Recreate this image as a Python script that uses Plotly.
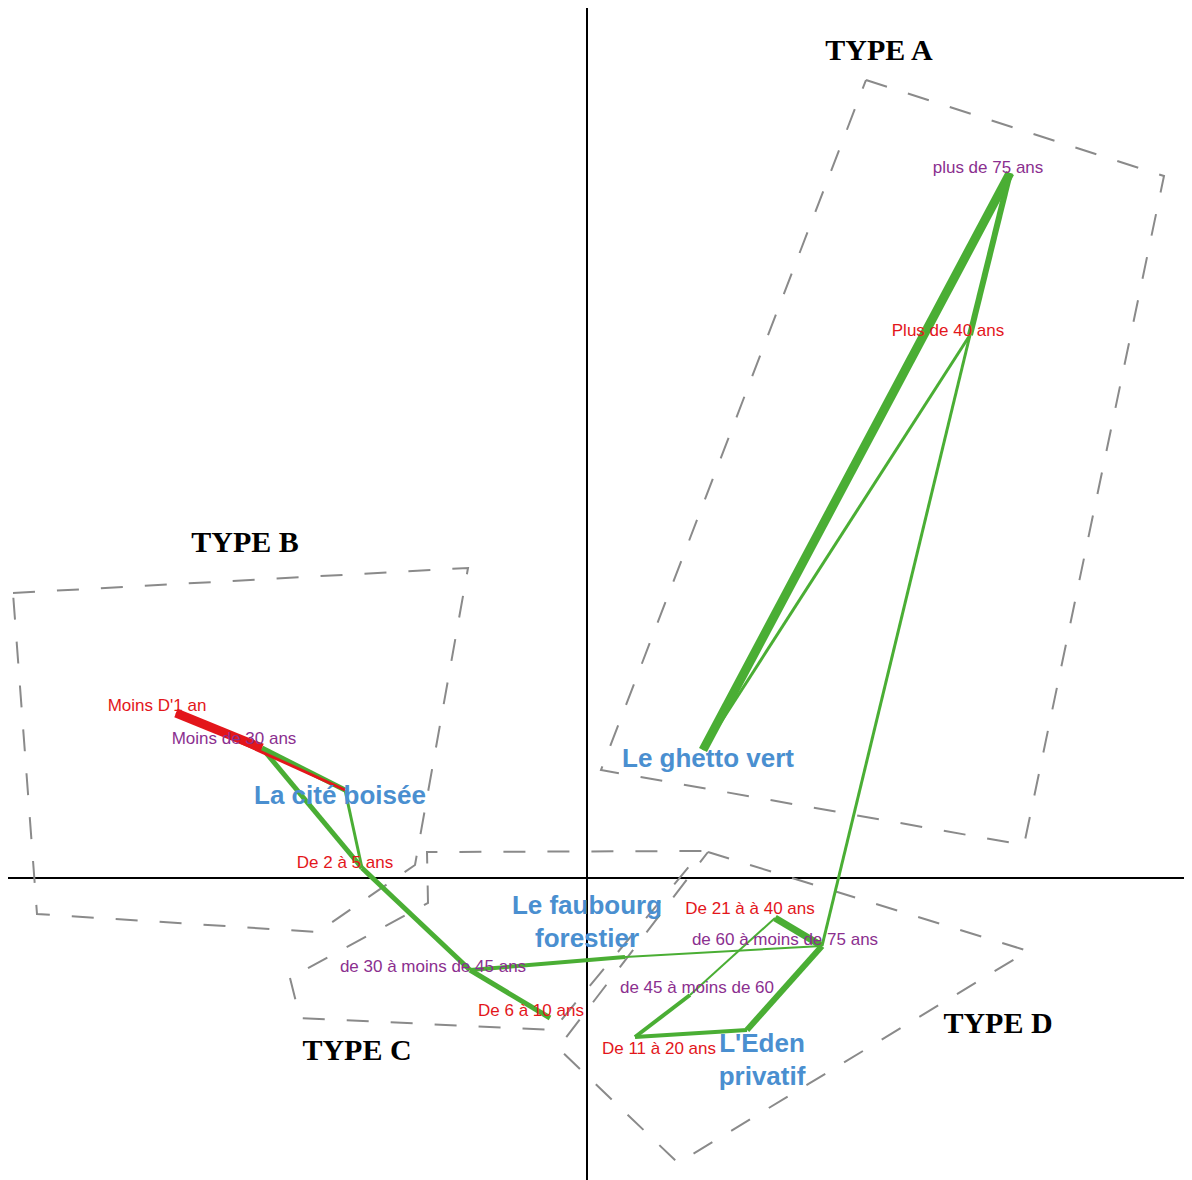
import plotly.graph_objects as go

# factor plane coordinates (axis 1 horizontal, axis 2 vertical)
node_names = ["moins1", "moins30", "cite", "de2a5", "de30a45", "de6a10", "faubourg",
              "de21a40", "de60a75", "de45a60", "de11a20", "eden", "plus40", "plus75", "ghetto"]
node_x = [-4.11, -3.25, -2.42, -2.25, -1.17, -0.37, 0.38, 1.88, 2.35, 1.03, 0.48, 1.60, 3.83, 4.23, 1.16]
node_y = [1.65, 1.30, 0.88, 0.10, -0.92, -1.40, -0.79, -0.40, -0.68, -1.17, -1.59, -1.52, 5.43, 7.05, 1.28]

# links between modalities, with their strength
edge_from = ["moins1", "moins1", "moins30", "moins30", "cite", "de2a5", "de30a45", "de30a45",
             "faubourg", "de21a40", "de21a40", "de45a60", "de11a20", "eden", "de60a75",
             "plus40", "plus40", "plus75"]
edge_to = ["moins30", "cite", "cite", "de2a5", "de2a5", "de30a45", "de6a10", "faubourg",
           "de60a75", "de60a75", "de45a60", "de11a20", "eden", "de60a75", "plus40",
           "plus75", "ghetto", "ghetto"]
edge_weight = [9, 3, 5, 5, 3, 5, 5, 4, 2, 7, 2, 4, 4, 6, 3, 6, 3, 9]
edge_kind = ["red", "red"] + ["green"] * 16

# dashed type envelopes
type_a_x = [2.79, 5.77, 4.37, 0.14, 2.79]
type_a_y = [7.98, 7.02, 0.33, 1.08, 7.98]
type_b_x = [-5.74, -1.19, -1.72, -2.69, -5.50, -5.74]
type_b_y = [2.85, 3.10, 0.13, -0.54, -0.36, 2.85]
type_c_x = [-2.97, -2.87, -0.34, 1.15, -1.60, -1.59, -2.97]
type_c_y = [-1.00, -1.40, -1.52, 0.27, 0.26, -0.25, -1.00]
type_d_x = [1.21, 4.41, 0.91, -0.29, 1.21]
type_d_y = [0.26, -0.73, -2.85, -1.70, 0.26]

# labels
red_labels = ["Moins D'1 an", "De 2 à 5 ans", "De 6 à 10 ans", "De 11 à 20 ans",
              "De 21 à à 40 ans", "Plus de 40 ans"]
red_x = [-4.30, -2.42, -0.56, 0.72, 1.63, 3.61]
red_y = [1.71, 0.14, -1.34, -1.72, -0.32, 5.46]
purple_labels = ["Moins de 30 ans", "de 30 à moins de 45 ans", "de 45 à moins de 60",
                 "de 60 à moins de 75 ans", "plus de 75 ans"]
purple_x = [-3.53, -1.54, 1.10, 1.98, 4.01]
purple_y = [1.38, -0.90, -1.11, -0.63, 7.09]
blue_labels = ["Le ghetto vert", "La cité boisée", "Le faubourg<br>forestier", "L'Eden<br>privatif"]
blue_x = [1.21, -2.47, 0.00, 1.75]
blue_y = [1.18, 0.81, -0.46, -1.84]
type_labels = ["TYPE A", "TYPE B", "TYPE C", "TYPE D"]
type_x = [2.92, -3.42, -2.30, 4.11]
type_y = [8.26, 3.34, -1.74, -1.47]

GREEN = "#4aae34"
RED = "#e3161b"
colors = {"green": GREEN, "red": RED}

fig = go.Figure()

# axes through the origin
fig.add_trace(go.Scatter(x=[-5.80, 6.05], y=[0, 0], mode="lines",
                         line=dict(color="black", width=2), hoverinfo="skip"))
fig.add_trace(go.Scatter(x=[0, 0], y=[8.70, -3.02], mode="lines",
                         line=dict(color="black", width=2), hoverinfo="skip"))

for px, py in [(type_a_x, type_a_y), (type_b_x, type_b_y), (type_c_x, type_c_y), (type_d_x, type_d_y)]:
    fig.add_trace(go.Scatter(x=px, y=py, mode="lines",
                             line=dict(color="#8a8a8a", width=2, dash="22px,22px"),
                             hoverinfo="skip"))

idx = {n: i for i, n in enumerate(node_names)}
# green first, red on top
order = [i for i in range(len(edge_from)) if edge_kind[i] == "green"] + \
        [i for i in range(len(edge_from)) if edge_kind[i] == "red"]
for i in order:
    a, b = idx[edge_from[i]], idx[edge_to[i]]
    fig.add_trace(go.Scatter(x=[node_x[a], node_x[b]], y=[node_y[a], node_y[b]], mode="lines",
                             line=dict(color=colors[edge_kind[i]], width=edge_weight[i]),
                             hoverinfo="skip"))

fig.add_trace(go.Scatter(x=red_x, y=red_y, mode="text", text=red_labels,
                         textfont=dict(family="Liberation Sans", size=17, color=RED)))
fig.add_trace(go.Scatter(x=purple_x, y=purple_y, mode="text", text=purple_labels,
                         textfont=dict(family="Liberation Sans", size=17, color="#8b2f8f")))
fig.add_trace(go.Scatter(x=blue_x, y=blue_y, mode="text", text=blue_labels,
                         textfont=dict(family="Liberation Sans", size=26, color="#4a8fd0", weight="bold")))
fig.add_trace(go.Scatter(x=type_x, y=type_y, mode="text", text=type_labels,
                         textfont=dict(family="Liberation Serif", size=30, color="black", weight="bold")))

fig.update_layout(width=1192, height=1180, margin=dict(l=0, r=0, t=0, b=0),
                  showlegend=False, plot_bgcolor="white", paper_bgcolor="white")
# page body has an 8px margin, so the ranges start 8px further in
fig.update_xaxes(visible=False, range=[-5.79, 6.13])
fig.update_yaxes(visible=False, range=[-3.10, 8.70])

fig.write_html("out.html")
